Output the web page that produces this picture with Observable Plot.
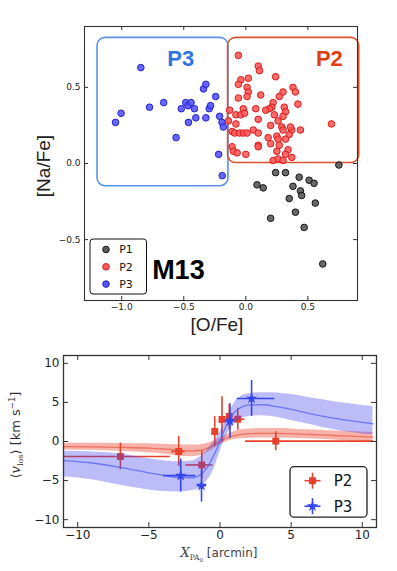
<!DOCTYPE html>
<html><head><meta charset="utf-8">
<script src="https://cdn.jsdelivr.net/npm/d3@7"></script>
<script src="https://cdn.jsdelivr.net/npm/@observablehq/plot@0.6"></script>
<style>
body{margin:0;background:#fff;}
#wrap{position:relative;width:397px;height:571px;overflow:hidden;background:#fff;}
#top{position:absolute;left:0;top:0;}
#bot{position:absolute;left:0;top:340px;}
</style></head><body>
<div id="wrap"><div id="top"></div><div id="bot"></div></div>
<script>
// ---------- Top panel data: [O/Fe] vs [Na/Fe] ----------
const p1O  = [0.75,0.24,0.32,0.43,0.51,0.55,0.09,0.14,0.38,0.44,0.45,0.35,0.56,0.40,0.20,0.47,0.62];
const p1Na = [-0.01,-0.06,-0.06,-0.09,-0.11,-0.13,-0.14,-0.16,-0.15,-0.18,-0.21,-0.23,-0.26,-0.32,-0.36,-0.42,-0.66];

const p2O  = [-0.06,0.10,0.11,-0.04,0.02,-0.06,0.01,0.02,0.01,0.12,0.24,0.30,0.27,0.38,0.40,0.42,0.22,0.21,0.19,0.16,0.08,-0.06,-0.13,-0.08,-0.04,-0.02,-0.01,-0.14,-0.08,-0.11,-0.09,-0.05,-0.02,0.01,0.06,0.10,0.10,0.20,0.23,0.26,0.31,0.32,0.30,0.29,0.30,0.37,0.44,0.35,0.32,0.25,0.18,0.26,0.20,0.10,0.10,0.27,0.25,0.34,0.32,0.37,0.22,0.26,0.30,-0.11,-0.10,-0.07,0.00,0.69,0.36];
const p2Na = [0.71,0.64,0.61,0.55,0.56,0.52,0.50,0.47,0.44,0.45,0.57,0.47,0.44,0.50,0.47,0.39,0.40,0.37,0.36,0.35,0.36,0.43,0.35,0.32,0.32,0.36,0.33,0.28,0.26,0.21,0.20,0.20,0.20,0.20,0.22,0.20,0.29,0.25,0.32,0.28,0.37,0.34,0.31,0.24,0.22,0.22,0.22,0.19,0.16,0.18,0.17,0.16,0.13,0.12,0.11,0.12,0.08,0.09,0.06,0.04,0.02,0.03,0.02,0.11,0.08,0.07,0.06,0.26,0.24];

const p3O  = [-1.05,-1.005,-0.846,-0.776,-0.662,-0.562,-0.52,-0.484,-0.465,-0.462,-0.441,-0.414,-0.403,-0.341,-0.322,-0.322,-0.295,-0.284,-0.243,-0.219,-0.211,-0.192,-0.181,-0.19];
const p3Na = [0.27,0.33,0.63,0.37,0.40,0.17,0.36,0.40,0.38,0.27,0.40,0.36,0.30,0.49,0.52,0.30,0.36,0.38,0.44,0.06,0.31,0.27,0.24,-0.08];

// selection boxes and their labels
const boxNames = ["P3","P2"];
const boxO1  = [-1.195,-0.143];
const boxO2  = [-0.14, 0.914];
const boxNa1 = [-0.149, 0.003];
const boxNa2 = [0.825, 0.825];
const boxColors = ["#5a93e6","#d9532c"];
const boxLabelO  = [-0.525, 0.673];
const boxLabelNa = [0.688, 0.686];
const boxLabelColors = ["#2f74de","#e0400f"];

const oTicks  = [-1.0,-0.5,0.0,0.5];
const naTicks = [-0.5,0.0,0.5];

// ---------- Bottom panel data: mean LOS velocity vs X_PA0 ----------
const p2X    = [-7.0,-2.9,-1.28,-0.37,0.14,0.65,1.25,3.92];
const p2V    = [-1.92,-1.28,-3.0,1.28,2.82,3.2,2.85,0.05];
const p2XLo  = [-11,-3.4,-2.4,-0.47,0.04,0.45,0.93,1.8];
const p2XHi  = [-3.5,-2.45,-0.5,-0.27,0.24,0.85,1.75,10.8];
const p2VErr = [1.7,1.9,1.8,1.9,2.9,1.6,1.4,1.2];

const p3X    = [-2.76,-1.3,0.7,2.22];
const p3V    = [-4.36,-5.65,2.6,5.5];
const p3XLo  = [-3.97,-1.6,0.4,1.2];
const p3XHi  = [-1.7,-0.95,1.0,3.85];
const p3VErr = [2.1,2.1,2.2,2.3];

const modelX  = [-11,-9,-7,-5,-4,-3,-2,-1.5,-1,-0.5,0,0.5,1,1.5,2,3,4,5,6,7,8,9,10,10.75];
const p2Mid   = [-0.65,-0.68,-0.75,-0.85,-0.95,-1.1,-1.2,-1.15,-0.95,-0.5,0.0,0.45,0.75,0.9,1.0,1.05,1.05,1.0,0.92,0.85,0.77,0.7,0.62,0.56];
const p2Lo    = [-1.08,-1.13,-1.25,-1.45,-1.6,-1.85,-1.95,-1.85,-1.55,-1.0,-0.4,0.0,0.25,0.35,0.4,0.45,0.45,0.4,0.35,0.3,0.2,0.1,0.0,-0.05];
const p2Hi    = [-0.22,-0.23,-0.25,-0.3,-0.35,-0.4,-0.45,-0.45,-0.3,0.0,0.4,0.9,1.25,1.5,1.6,1.65,1.65,1.6,1.5,1.45,1.35,1.3,1.2,1.15];
const p3Mid   = [-2.45,-2.75,-3.3,-4.0,-4.3,-4.6,-4.65,-4.4,-3.6,-2.0,0.0,2.3,3.7,4.4,4.65,4.7,4.45,4.1,3.7,3.3,3.0,2.7,2.45,2.27];
const p3Lo    = [-4.5,-4.9,-5.6,-6.2,-6.4,-6.45,-6.3,-6.0,-5.2,-3.8,-1.3,0.9,2.2,2.9,3.2,3.3,3.1,2.7,2.3,1.9,1.5,1.2,0.95,0.85];
const p3Hi    = [-1.25,-1.35,-1.6,-2.2,-2.45,-2.6,-2.5,-2.1,-1.3,-0.2,1.2,3.0,4.9,5.8,6.1,6.25,6.2,6.0,5.7,5.4,5.1,4.85,4.6,4.48];

const xTicksB = [-10,-5,0,5,10];
const yTicksB = [-10,-5,0,5,10];

// ---------- build tables ----------
const pts = (O, Na) => O.map((o,i)=>({o, na: Na[i]}));
const P1 = pts(p1O,p1Na), P2 = pts(p2O,p2Na), P3 = pts(p3O,p3Na);
const boxes = boxNames.map((n,i)=>({n, x1:boxO1[i], x2:boxO2[i], y1:boxNa1[i], y2:boxNa2[i], c:boxColors[i], lx:boxLabelO[i], ly:boxLabelNa[i], lc:boxLabelColors[i]}));
const model = modelX.map((x,i)=>({x, p2:p2Mid[i], p2lo:p2Lo[i], p2hi:p2Hi[i], p3:p3Mid[i], p3lo:p3Lo[i], p3hi:p3Hi[i]}));
const binsP2 = p2X.map((x,i)=>({x, v:p2V[i], xlo:p2XLo[i], xhi:p2XHi[i], vlo:p2V[i]-p2VErr[i], vhi:p2V[i]+p2VErr[i]}));
const binsP3 = p3X.map((x,i)=>({x, v:p3V[i], xlo:p3XLo[i], xhi:p3XHi[i], vlo:p3V[i]-p3VErr[i], vhi:p3V[i]+p3VErr[i]}));

function inwardTicks(xt, yt, fw, fh, len, stroke){
  return [
    Plot.tickX(xt, {x: d=>d, insetTop: fh-len, stroke}),
    Plot.tickX(xt, {x: d=>d, insetBottom: fh-len, stroke}),
    Plot.tickY(yt, {y: d=>d, insetRight: fw-len, stroke}),
    Plot.tickY(yt, {y: d=>d, insetLeft: fw-len, stroke})
  ];
}

// ---------- top plot ----------
const W = 397;
const tM = {l:84, r:40, t:26, b:40}, tH = 340;
const fmt1 = d3.format(".1f");
const topSvg = Plot.plot({
  width: W, height: tH,
  marginLeft: tM.l, marginRight: tM.r, marginTop: tM.t, marginBottom: tM.b,
  style: {fontFamily: "'DejaVu Sans', sans-serif", fontSize: "9px", color: "#222", background: "#fff"},
  x: {domain: [-1.3, 0.9]},
  y: {domain: [-0.9, 0.9]},
  marks: [
    Plot.rect(boxes, {x1:"x1", x2:"x2", y1:"y1", y2:"y2", stroke:"c", fill:"none", strokeWidth:1.6, rx:8}),
    Plot.dot(P1, {x:"o", y:"na", r:3.3, fill:"#595959", stroke:"#151515", strokeWidth:1, fillOpacity:0.9}),
    Plot.dot(P2, {x:"o", y:"na", r:3.3, fill:"#ff5a5a", stroke:"#d81e1e", strokeWidth:1, fillOpacity:0.9}),
    Plot.dot(P3, {x:"o", y:"na", r:3.3, fill:"#5656ff", stroke:"#2323c8", strokeWidth:1, fillOpacity:0.9}),
    Plot.text(boxes, {x:"lx", y:"ly", text:"n", fill:"lc", fontSize:22, fontWeight:"bold", fontFamily:"'Liberation Sans', Arial, sans-serif"}),
    Plot.text(["M13"], {x:-0.755, y:-0.70, text:d=>d, textAnchor:"start", fontSize:27, fontWeight:"bold", fill:"#000", fontFamily:"'Liberation Sans', Arial, sans-serif"}),
    Plot.frame({stroke:"#333", strokeWidth:1.1}),
    ...inwardTicks(oTicks, naTicks, W-tM.l-tM.r, tH-tM.t-tM.b, 4, "#333"),
    Plot.axisX({ticks:oTicks, tickSize:0, tickPadding:3, tickFormat:fmt1, label:null}),
    Plot.axisY({ticks:naTicks, tickSize:0, tickPadding:4, tickFormat:fmt1, label:null})
  ]
});
document.getElementById("top").appendChild(topSvg);

// axis labels + legend (top)
{
  const s = d3.select(topSvg);
  s.append("text").attr("transform","translate(50,166) rotate(-90)").attr("text-anchor","middle")
    .attr("font-family","'Liberation Sans', Arial, sans-serif").attr("font-size",19).attr("fill","#222").text("[Na/Fe]");
  s.append("text").attr("x",217).attr("y",331).attr("text-anchor","middle")
    .attr("font-family","'Liberation Sans', Arial, sans-serif").attr("font-size",19).attr("fill","#222").text("[O/Fe]");
  const g = s.append("g");
  g.append("rect").attr("x",90).attr("y",239).attr("width",56.5).attr("height",55).attr("rx",3)
    .attr("fill","#fff").attr("stroke","#111").attr("stroke-width",1);
  const leg = [["P1","#595959","#151515"],["P2","#ff5a5a","#d81e1e"],["P3","#5656ff","#2323c8"]];
  leg.forEach(([t,f,st],i)=>{
    const y = 249.5 + i*17.3;
    g.append("circle").attr("cx",106).attr("cy",y).attr("r",3.3).attr("fill",f).attr("stroke",st);
    g.append("text").attr("x",126).attr("y",y).attr("dy","0.36em").attr("font-family","'DejaVu Sans', sans-serif")
      .attr("font-size",11).attr("fill","#111").text(t);
  });
}

// ---------- bottom plot ----------
const bM = {l:63, r:21, t:15, b:44}, bH = 231;
const red = "#e8402a", blue = "#3346ee";
const starR = 3.6;
const botSvg = Plot.plot({
  width: W, height: bH,
  marginLeft: bM.l, marginRight: bM.r, marginTop: bM.t, marginBottom: bM.b,
  style: {fontFamily: "'DejaVu Sans', sans-serif", fontSize: "12px", color: "#222", background: "#fff"},
  x: {domain: [-11, 11]},
  y: {domain: [-11, 11]},
  marks: [
    Plot.areaY(model, {x:"x", y1:"p2lo", y2:"p2hi", fill:red, fillOpacity:0.4, curve:"monotone-x"}),
    Plot.line(model, {x:"x", y:"p2", stroke:"#ee5a48", strokeOpacity:0.75, strokeWidth:1.3, curve:"monotone-x"}),
    Plot.ruleY(binsP2, {y:"v", x1:"xlo", x2:"xhi", stroke:red, strokeWidth:1.6}),
    Plot.ruleX(binsP2, {x:"x", y1:"vlo", y2:"vhi", stroke:red, strokeWidth:1.6}),
    Plot.dot(binsP2, {x:"x", y:"v", symbol:"square", r:3.9, fill:red, stroke:null}),
    Plot.areaY(model, {x:"x", y1:"p3lo", y2:"p3hi", fill:"#4040ee", fillOpacity:0.35, curve:"monotone-x"}),
    Plot.line(model, {x:"x", y:"p3", stroke:"#5566f0", strokeOpacity:0.8, strokeWidth:1.3, curve:"monotone-x"}),
    Plot.ruleY(binsP3, {y:"v", x1:"xlo", x2:"xhi", stroke:blue, strokeWidth:1.6}),
    Plot.ruleX(binsP3, {x:"x", y1:"vlo", y2:"vhi", stroke:blue, strokeWidth:1.6}),
    Plot.dot(binsP3, {x:"x", y:"v", symbol:"star", r:starR, fill:blue, stroke:null}),
    Plot.frame({stroke:"#333", strokeWidth:1.3}),
    ...inwardTicks(xTicksB, yTicksB, W-bM.l-bM.r, bH-bM.t-bM.b, 5, "#333"),
    Plot.axisX({ticks:xTicksB, tickSize:0, tickPadding:3, tickFormat:d3.format("d"), label:null}),
    Plot.axisY({ticks:yTicksB, tickSize:0, tickPadding:4, tickFormat:d3.format("d"), label:null})
  ]
});
document.getElementById("bot").appendChild(botSvg);

{
  const s = d3.select(botSvg);
  // y label
  const yl = s.append("text").attr("transform","translate(20,95) rotate(-90)").attr("text-anchor","middle")
    .attr("font-family","'DejaVu Sans', sans-serif").attr("font-size",13).attr("fill","#333");
  yl.append("tspan").text("\u27E8");
  yl.append("tspan").attr("font-family","'DejaVu Serif', serif").attr("font-style","italic").text("v");
  yl.append("tspan").attr("font-size",8).attr("dy",3).attr("font-family","'DejaVu Serif', serif").text("los");
  yl.append("tspan").attr("dy",-3).text("\u27E9 [km s");
  yl.append("tspan").attr("font-size",8.5).attr("dy",-5).text("\u22121");
  yl.append("tspan").attr("dy",5).text("]");
  // x label
  const xl = s.append("text").attr("x",219).attr("y",217).attr("text-anchor","middle")
    .attr("font-family","'DejaVu Sans', sans-serif").attr("font-size",12).attr("fill","#444");
  xl.append("tspan").attr("font-family","'DejaVu Serif', serif").attr("font-style","italic").attr("font-size",13).text("X");
  xl.append("tspan").attr("font-family","'DejaVu Serif', serif").attr("font-size",7.5).attr("dy",3).text("PA");
  xl.append("tspan").attr("font-family","'DejaVu Serif', serif").attr("font-size",5.5).attr("dy",1.5).text("0");
  xl.append("tspan").attr("dy",-4.5).text(" [arcmin]");
  // legend
  const g = s.append("g");
  g.append("rect").attr("x",290).attr("y",126.7).attr("width",77).attr("height",50.5).attr("rx",4)
    .attr("fill","#fff").attr("stroke","#222").attr("stroke-width",1.3);
  const leg = [["P2",red,"square"],["P3",blue,"star"]];
  leg.forEach(([t,c,sym],i)=>{
    const y = 140.7 + i*25.5, x = 312.5;
    g.append("line").attr("x1",x-8).attr("x2",x+8).attr("y1",y).attr("y2",y).attr("stroke",c).attr("stroke-width",1.6);
    g.append("line").attr("x1",x).attr("x2",x).attr("y1",y-8).attr("y2",y+8).attr("stroke",c).attr("stroke-width",1.6);
    const size = sym==="square" ? 3.9*3.9*Math.PI : starR*starR*Math.PI;
    g.append("path").attr("transform",`translate(${x},${y})`)
      .attr("d", d3.symbol(sym==="square"?d3.symbolSquare:d3.symbolStar, size)()).attr("fill",c);
    g.append("text").attr("x",343).attr("y",y).attr("dy","0.36em").attr("font-family","'DejaVu Sans', sans-serif")
      .attr("font-size",15).attr("fill","#111").text(t);
  });
}
</script>
</body></html>
